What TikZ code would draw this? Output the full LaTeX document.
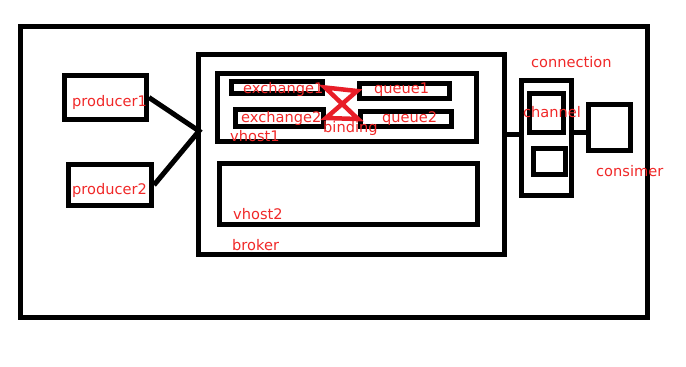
\documentclass[tikz,border=0pt]{standalone}
\usepackage{fontspec}
\setmainfont{DejaVu Sans}
\definecolor{lblred}{RGB}{240,40,40}
\definecolor{bindred}{RGB}{232,30,40}

\tikzset{
  box/.style={draw,line width=5pt,inner sep=0pt},
  lbl/.style={text=lblred,anchor=base west,inner sep=0pt,font=\fontsize{14.6}{16}\selectfont},
  bind/.style={draw=bindred,line width=4.5pt,line cap=round}
}

\begin{document}
\begin{tikzpicture}[x=1pt,y=-1pt]
  \useasboundingbox (0,0) rectangle (686,367);
  % frame, producers, broker with two vhosts
  \node[box,minimum width=627pt,minimum height=291pt] (frame) at (334,172) {};
  \node[box,minimum width=82pt,minimum height=44pt] (prod1) at (105.5,97.5) {};
  \node[box,minimum width=83pt,minimum height=41pt] (prod2) at (110,185) {};
  \node[box,minimum width=306pt,minimum height=200pt] (broker) at (351.5,154.5) {};
  \node[box,minimum width=259pt,minimum height=68pt] (vhost1) at (347,107.5) {};
  \node[box,minimum width=258pt,minimum height=61pt] (vhost2) at (348.5,194) {};
  \node[box,minimum width=91pt,minimum height=12pt] (ex1) at (277,87.5) {};
  \node[box,minimum width=88pt,minimum height=17pt] (ex2) at (279.5,118) {};
  \node[box,minimum width=90pt,minimum height=15pt] (q1) at (404.5,91) {};
  \node[box,minimum width=91pt,minimum height=15pt] (q2) at (406,119) {};
  % connection side
  \node[box,minimum width=50pt,minimum height=115pt] (conn) at (546.5,138) {};
  \node[box,minimum width=34pt,minimum height=39pt] (chan1) at (546.5,113) {};
  \node[box,minimum width=32pt,minimum height=26pt] (chan2) at (549.5,161.5) {};
  \node[box,minimum width=42pt,minimum height=46pt] (cons) at (609.5,127.5) {};

  \coordinate (in) at (199,131);
  \draw[line width=5pt] (prod1.east) -- (in) -- (prod2.east);
  \draw[line width=5pt] (broker.east |- 0,134) -- (conn.west |- 0,134);
  \draw[line width=5pt] (conn.east |- 0,132) -- (cons.west |- 0,132);

  % bindings
  \draw[bind] (ex1.east) -- (q1.west) -- (ex2.east) -- (q2.west) -- cycle;

  \node[lbl] (tp1) at (72,106) {producer1};
  \node[lbl] (tp2) at (72,194) {producer2};
  \node[lbl] (tex1) at (243,93) {exchange1};
  \node[lbl] (tex2) at (241,122) {exchange2};
  \node[lbl] (tq1) at (374,93) {queue1};
  \node[lbl] (tq2) at (382,122) {queue2};
  \node[lbl] (tbind) at (323,132) {binding};
  \node[lbl] (tv1) at (230,141) {vhost1};
  \node[lbl] (tv2) at (233,219) {vhost2};
  \node[lbl] (tbroker) at (232,250) {broker};
  \node[lbl] (tconn) at (531,67) {connection};
  \node[lbl] (tchan) at (523,117) {channel};
  \node[lbl] (tcons) at (596,176) {consimer};
\end{tikzpicture}
\end{document}
